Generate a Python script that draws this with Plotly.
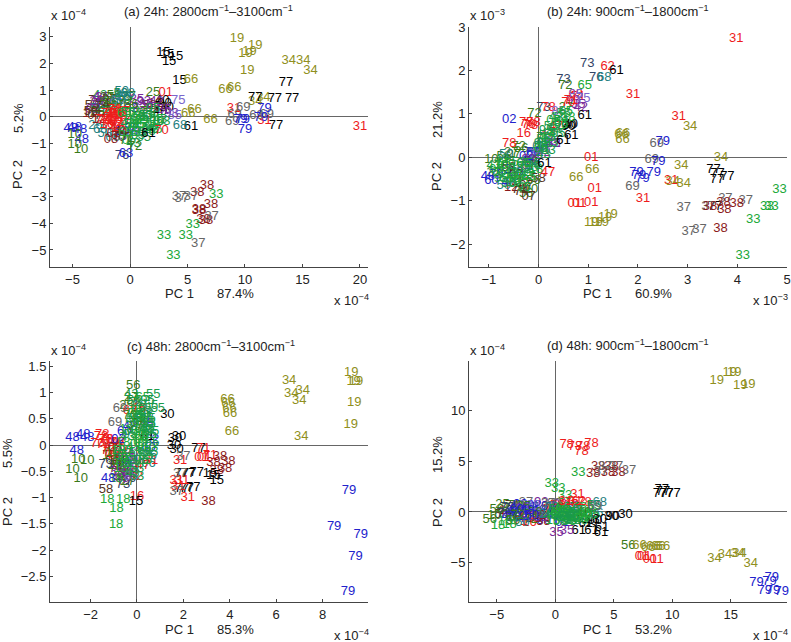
import plotly.graph_objects as go

# ---------- panel (a) ----------
a_labels = ["19","19","19","19","19","34","34","34","34","34","15","15","15","15","15","66","66","66","66","66","66",
 "77","77","77","77","77","31","31","31","69","69","69","69","69","79","79","79","79","79",
 "38","38","38","38","38","38","38","33","33","33","33","33","37","37","37","37","37",
 "48","48","48","48","10","10","10","25","01","75","61","61","70","68","76","63","08","72","50"]
a_x = [9.3,10.9,10.4,10.05,10.2,13.8,15.07,15.7,11.6,10.9,2.9,3.25,4,3.4,4.3,5.3,8.3,9.07,5.6,7,5.07,
 13.56,10.9,12.6,14.1,12.7,9.04,11.7,20,9.85,8.9,11.9,11,9.1,11.7,9.6,10,9.8,11.4,
 6.7,5.85,7.05,6,6,6.4,6.6,7.5,5.45,2.95,4.84,3.77,4.26,5.3,4.5,7.1,5.94,
 -5.16,-4.8,-4.35,-4.2,-4.8,-4.26,-4.8,2,3.1,4.2,5.3,1.6,2.75,4.35,-.7,-.35,-1.65,.43,-.72]
a_y = [2.94,2.65,2.44,2.35,1.71,2.12,2.12,1.72,.71,.56,2.4,2.31,2.25,2.05,1.37,1.4,1.02,1.09,.27,-.1,.12,
 1.29,.71,.67,.67,-.34,.3,-.16,-.37,.35,-.2,.06,.03,.06,.31,-.1,-.47,-.12,-.02,
 -2.6,-2.85,-3.32,-3.5,-3.54,-3.87,-3.9,-2.94,-4.04,-4.45,-4.45,-5.22,-3.02,-3,-3.09,-3.77,-4.75,
 -.44,-.41,-.47,-.87,-1.06,-1.25,-.69,.9,.9,.62,-.37,-.62,-.54,-.35,-1.47,-1.4,-.85,-1.12,.94]
a2_labels = ["58","74","43","35","27","07","56","12","93","50","73","06","26","85","40","90","30","53","55","27",
 "35","93","58","12","74","26","68","50","06","73","85","76","42","35","93","40","35","93","85","42","72","60","02","60",
 "56","27","25","10","72","56","27","25","10","58","07","12","74","35","42","27","56","72","50","26","68","08","12","74","07",
 "78","71","47","16","62","78","71","47","16","62","78","71","78","16","71","47","78","71","16","47",
 "65","05","43","53","55","95","05","65","43","53","55","95","05","65","43","53","55","95","05","65","43","53","55","05","65","95","53","43","18","05"]
a2_x = [-3.3,-3,-2.6,-2.4,-2.1,-1.8,-1.4,-3.5,-3.2,-2.8,-2.5,-2.2,-1.9,-1.2,2.8,3,3.2,-.8,-.5,-.1,
 .6,1.2,1.7,2.2,2.7,-3,-2.6,-2.2,-1.5,-.9,-.3,.2,.8,1.4,2,2.6,3,3.6,3.9,2.3,-.3,-.7,.1,.7,
 -2.8,-2.3,-1.7,-1,-.4,.1,.9,1.6,2.4,-3.4,-3.1,-2.7,-2.4,-2.9,-2.6,-2,-1.6,-1.3,-1,-.6,-.2,-1.4,-1.1,-.8,-.4,
 -1.9,-1.7,-1.5,-1.3,-1.1,-.9,-1.8,-1.6,-1.4,-1.2,-1,-2.2,-2.4,-2,-.7,-.5,-1.7,-1.3,-1,-.6,
 -.4,-.1,.3,.7,1.2,1.6,1.9,2.2,2.6,2.9,-.2,.2,.5,.8,1.1,1.4,1.7,2,2.3,-.5,-.2,.1,.4,.7,1,1.3,1.6,1.9,.3,.6,.9,1.2,-.3,.1]
a2_y = [.4,.6,.8,.7,.55,.65,.8,.1,.25,.3,.5,.2,.4,.6,.6,.5,.35,.85,.7,.75,
 .65,.55,.4,.5,.35,-.35,-.5,-.65,-.8,-.75,-.55,-.45,.35,.45,.3,.2,.25,.1,.05,.55,-.9,-.55,.3,-.6,
 .15,.3,.2,.4,.55,.45,.2,.1,-.2,.2,.05,-.1,.45,.55,.7,.7,.5,.3,.6,.75,.85,-.65,-.45,-.6,-.8,
 .1,-.05,.05,-.1,.12,-.02,-.2,-.12,.15,-.22,.2,-.15,-.1,-.3,.05,-.1,-.35,.25,-.42,.2,
 -.6,-.9,-1,-.7,-.8,-.55,-.35,-.5,-.1,-.2,.15,-.1,.1,-.3,-.2,.05,-.4,.3,-.1,.1,-.25,-.3,-.45,-.05,-.15,.05,-.05,-.5,-.6,-.3,-.15,-.05,-.25,-.1,-.7,-.4]

# ---------- panel (b) ----------
b_labels = ["31","31","31","31","31","34","34","34","34","34","73","73","62","61","76","68","61","61","61","61",
 "72","65","02","72","78","66","66","66","66","66","69","69","69","79","79","79","79","79","79",
 "01","01","01","01","01","19","19","19","19","19","77","77","77","77","77",
 "37","37","37","37","37","37","38","38","38","38","38","33","33","33","33","33","47"]
b_x = [3.98,1.9,2.82,2.1,2.67,3.05,3.67,2.87,2.92,2.7,.98,.5,1.39,1.57,1.16,1.32,.93,.66,.5,.12,
 .54,.93,-.59,-.08,-.59,1.67,1.7,1.69,1.08,.76,2.38,2.28,1.89,2.5,2.41,2.32,1.97,2.09,2.02,
 1.06,1.13,.73,.82,1.06,1.45,1.06,1.15,1.27,1.34,3.52,3.6,3.8,3.59,3.55,
 3.76,4.17,2.92,3.02,3.24,3.42,3.72,3.99,3.74,3.66,3.45,4.85,4.6,4.69,4.32,4.11,.19]
b_y = [2.73,1.45,.93,-.96,-.55,.71,-.02,-.2,-.62,-.56,2.16,1.78,2.09,1.99,1.84,1.84,.96,.5,.37,-.16,
 1.64,1.65,.87,1,.3,.52,.54,.4,-.3,-.47,.31,-.07,-.69,.36,-.11,-.36,-.36,-.49,-.43,
 -.01,-.72,-1.08,-1.08,-1.06,-1.33,-1.5,-1.5,-1.5,-1.4,-.3,-.37,-.44,-.53,-1.15,
 -.95,-1,-1.17,-1.71,-1.67,-1.14,-1.04,-1.08,-1.21,-1.66,-1.14,-.74,-1.14,-1.14,-1.44,-2.27,-.36]
b2_labels = ["78","78","78","78","62","71","16","47","17","72","93","35","42","75","85","75","85","42","26","27",
 "40","90","30","53","55","43","05","95","10","25","27","56","10","25","73","76","58","07","12",
 "06","26","50","68","06","26","50","48","60","79","02","48","60","02","60","74","12","07","58",
 "73","78","85","70","71","35","42","75","93","72","27","56","50","68","26","06","58","07",
 "56","10","56","74","07","43","05","65","18","43","05","65","18","95","53","55","43","05","65","18","95","53","55","43","05","18","95","53",
 "05","65","43","53","95","55","05","65","43","53","95","55","05","65","43","53"]
b2_x = [-.25,-.2,-.15,-.1,.75,.8,-.3,.35,.2,.1,.7,.8,.85,.9,.75,.2,.25,.3,.05,.55,
 .65,.6,.62,.45,.5,.35,.3,.15,-.75,-.6,-.5,-.35,-.95,-.9,-.15,.05,-.15,-.2,-.55,
 -.3,-.2,-.05,.1,-.5,-.4,-.7,-1.02,-.95,-.85,-.7,-.6,-.45,-.25,-.1,-.4,-.3,-.25,.0,
 .1,.2,.4,.6,.65,.3,.1,-.05,-.2,-.4,-.55,-.7,-.65,-.3,-.1,.02,-.6,-.45,
 -.25,-.15,-.1,-.35,-.2,-.9,-.8,-.65,-.55,-.45,-.35,-.2,-.05,.05,.15,.25,.35,.45,.55,.6,.4,.2,.1,-.75,-.62,-.5,-.3,-.15,
 -.85,-.7,-.55,-.4,-.25,-.1,.05,.2,.3,.45,-.75,-.6,-.45,-.3,.1,.25]
b2_y = [.8,.75,.72,.8,1.45,1.4,.55,.7,.5,.45,1.3,1.2,1.15,1.35,1.45,.45,.35,.3,.2,1.15,
 .75,.7,.72,.9,1,.55,.85,.6,-.2,-.1,.05,.2,-.05,-.35,.1,.2,-.1,-.2,-.7,
 -.15,-.1,.1,.3,-.55,-.45,-.65,-.45,-.55,-.4,-.3,-.6,-.35,0,.1,-.75,-.6,-.65,-.5,
 1.15,1.15,1.05,1.25,1.3,.3,.1,.05,-.05,.25,.1,.0,.05,-.3,-.2,.25,-.25,-.4,
 -.85,-.75,-.55,-.8,-.9,-.2,-.35,-.5,-.4,-.25,-.55,-.45,-.3,.3,.5,.7,.9,.75,1.05,.9,.55,.15,.4,-.05,-.2,-.6,-.7,-.25,
 -.3,-.15,-.35,-.12,-.4,-.15,.2,.45,.65,.8,-.5,-.62,-.48,-.15,.05,.3]

# ---------- panel (c) ----------
c_labels = ["19","19","19","19","19","34","34","34","34","34","66","66","66","66","66","79","79","79","79","79",
 "30","30","30","30","30","77","77","77","77","77","77","77","71","71","01","01",
 "38","38","38","38","38","38","15","15","15","31","31","31","31","31","37","37","37",
 "48","48","48","48","48","10","10","10","10","18","18","18","18","58","16","15","78","70","73","56","55","55","69","69"]
c_x = [9.24,9.34,9.44,9.37,9.22,6.56,7.15,6.65,7,7.08,3.9,3.94,3.99,4.01,4.1,9.14,8.5,9.65,9.42,9.1,
 1.31,1.81,1.64,1.6,1.71,2.65,1.93,2.2,2.58,1.93,2.15,2.43,2.86,3.15,2.9,2.78,
 3.3,3.58,3.94,3.8,3.44,3.08,3.3,3.44,3.15,1.86,1.71,1.95,1.78,2.19,2,1.71,1.86,
 -2.78,-2.32,-2.14,-2.6,-1.24,-2.78,-2.42,-2.53,-2.14,-1.28,-.59,-.88,-.9,-1.34,0,-.04,-1.5,-1.7,-1.35,-.16,.7,.9,-.73,-.95]
c_y = [1.37,1.2,1.2,.81,.39,1.22,1.03,.98,.84,.15,.86,.78,.7,.6,.25,-.88,-1.55,-1.7,-2.12,-2.79,
 .57,.16,.11,-.01,-.09,-.08,-.54,-.54,-.53,-.84,-.84,-.82,-.08,-.2,-.25,-.24,
 -.33,-.23,-.31,-.46,-.49,-1.08,-.58,-.68,-.55,-.3,-.68,-.69,-.79,-1,-.22,-.89,-.55,
 .13,.19,.13,-.1,-.65,-.48,-.65,-.29,-.3,-1.04,-1.04,-1.22,-1.52,-.86,-.98,-1.09,.2,.03,-.37,1.13,.96,.7,.7,.43]
c2_labels = ["78","70","78","71","47","16","12","74","58","07","73","76","72","56","27","25","10","12","08","35","42","93","35","42","93",
 "85","75","26","06","50","68","26","06","60","02","48","02","60","62","16","47","62","61","31",
 "78","70","71","47","78","16","08","12","07","58","74","72","27","56","10","25","35","93","42","85","02","60","48","26","06",
 "43","53","05","65","95","55","18","43","53","05","65","95","55","18","43","53","05","65","95","55","18","43","53","05","65","95","55","18","43","53","05","65","95","55","18","27","56","72",
 "05","65","43","53","95","55","05","65","43","53","95","55","05","65","43","53","95","55"]
c2_x = [-1.3,-1.1,-1.55,-1,-.8,-.55,-1.2,-.9,-.7,-.5,-.6,-.35,-.5,-.15,-.25,-.45,-1.2,-.85,-.3,-.7,-.5,-.3,-.25,-.1,.05,
 .25,.35,.55,.5,.25,.4,.1,-.05,-.55,-.35,.4,.65,.5,-.3,.1,.25,-.05,.45,.6,
 -1.45,-1.25,-1.15,-1,-1.35,-.85,-.95,-.75,-1.05,-.8,-.65,-.6,-.4,-.75,-1.05,-.95,-.85,-.65,-.45,-.25,-.8,-.55,-.3,.55,.35,
 -.25,-.1,.05,.25,.45,.6,-.45,-.4,-.2,0,.2,.35,.5,-.6,-.15,.05,.2,.4,.55,.65,-.8,-.3,-.05,.15,.3,.45,.6,-.7,-.2,0,.15,.35,.5,.65,-.9,-.05,.1,-.3,
 -.1,.1,.3,.5,-.3,-.15,0,.2,.4,.6,-.5,-.7,-.6,-.4,-.2,0,.2,.4]
c2_y = [.1,.05,.15,-.2,.05,-.1,-.05,-.45,-.6,-.7,-.75,-.65,-.3,.85,.9,.75,-.2,-.35,-.55,-.2,-.25,-.35,-.45,-.15,-.3,
 .5,.35,.2,-.35,.55,.6,.75,.5,-.35,-.3,.4,.1,-.05,.65,.7,-.4,-.6,.15,-.3,
 .0,-.1,-.15,-.2,.1,.05,-.05,-.25,-.3,-.4,-.55,-.6,-.7,-.3,-.15,-.4,-.5,-.65,-.55,-.6,.1,.25,.35,-.2,-.15,
 .95,.8,.65,.9,.85,.75,.3,.15,.4,.55,.3,.7,.5,.05,-.05,.25,.1,.5,.2,.05,-.1,-.3,-.15,.05,-.1,.3,-.15,-.45,-.55,-.45,.2,-.3,.4,.25,-.65,.35,.45,.55,
 .6,.45,.6,.4,.2,.5,.0,.15,.3,-.05,-.1,-.2,-.35,-.25,-.4,-.6,-.3,-.2]

# ---------- panel (d) ----------
d_labels = ["19","19","19","19","19","78","78","78","78","78","38","38","38","38","38","37","37","37","37",
 "33","33","33","33","31","31","31","77","77","77","77","77","30","30","30","61","61","61","61","35","35",
 "56","66","66","66","66","66","01","01","01","01","34","34","34","34","34","79","79","79","79","79","79",
 "56","18","18","90","69"]
d_x = [13.8,14.9,15.3,15.8,16.5,.97,1.68,2.4,3.1,2.25,3.68,4.8,3.25,4.5,5.4,4.25,6.3,5.2,3.9,
 1.97,-.3,.25,.83,1.9,1.7,.9,9.1,8.95,9.5,10.1,9.2,6,4.8,3.8,2,3.1,3.9,4,.1,1,
 6.24,7.2,7.95,8.4,8.8,9.2,7.4,8.1,8.66,7.6,13.6,14.5,15.6,15.75,16.7,18.5,17.2,18.3,17.9,18.6,19.35,
 -5.6,-4.9,-3.9,4.9,3.4]
d_y = [12.95,13.7,13.7,12.45,12.5,6.6,6.45,6.45,6.75,5.97,4.5,4.5,3.77,3.83,3.87,4.5,4.1,4.5,4,
 3.83,2.8,2.3,1.64,1.7,1,1,2.2,1.8,1.8,1.8,2,-.26,-.5,-.8,-1.87,-1.8,-2.07,-1.6,-2.07,-1.8,
 -3.34,-3.34,-3.5,-3.45,-3.45,-3.45,-4.36,-4.75,-4.75,-4.45,-4.62,-4.16,-4.1,-4.1,-5.08,-6.5,-6.95,-6.9,-7.77,-7.77,-7.87,
 -.8,-1.4,-1.3,-.45,.5]
d2_labels = ["58","12","74","25","27","72","56","10","73","76","69","37","93","35","42","93","35","85","75","26","06","50","68","26","06","50","68",
 "48","60","02","48","60","02","48","60","02","48","60","02","78","71","47","16","62","78","71","47","16","08","12","38",
 "40","90","61","18","35","42","85","75","93","37","69","73","76","27","25","72","56","60","02","48","60","26","06",
 "43","53","05","65","95","55","18","43","53","05","65","95","55","18","43","53","05","65","95","55","18","43","53","05","65","95","55","10","56","72","50","26","68",
 "05","65","43","53","95","55","05","65","43","53"]
d2_x = [-4.6,-4.2,-3.7,-4.5,-4,-3.4,-5,-5.2,-4.4,-3.8,-3.2,-2.5,-1.2,-.6,-.1,.4,.9,1.4,1.9,-3.5,-3,-2.5,-2,-1.5,-1,-.5,0,
 -4,-3.5,-3,-2.6,-2.2,-1.8,-1.4,-1,-.6,-.2,.2,.6,-.4,.2,.8,1.4,2,2.5,-3,-2.6,-2.2,-1.8,-1.4,-1,
 3,3.4,2.6,-4.3,-2.8,-2.3,-1.9,-1.6,-1.2,-.6,-.1,-4.1,-3.6,-3.1,-2.7,-2.1,-1.7,-3.3,-2.9,-2.4,-2,-.8,-.3,
 -.4,0,.3,.6,.9,1.2,1.5,1.8,2.1,2.4,2.7,3,3.3,-.2,.1,.4,.7,1,1.3,1.6,1.9,2.2,.5,.9,1.3,1.7,2.1,2.5,-3.6,-3.2,-2.8,3.5,3.8,3.2,
 .2,.6,1,1.4,1.8,2.2,2.6,.8,1.2,1.6]
d2_y = [-.3,.1,.6,.7,.4,.6,.2,-.4,-.2,.3,.5,.9,.9,.5,.2,.7,.3,.5,.1,-.6,-.3,.1,.4,-.2,-.7,-.3,.2,
 -.5,-.1,.7,-.7,.4,.6,.1,-.9,.5,-.4,.3,-1.1,.2,.6,.9,.7,1,.9,-1,-.6,-1.1,-.7,-.4,-1,
 -1,-.9,-1.2,-1,.3,-.5,.6,-.2,-.6,.8,.8,.4,-.6,-.3,.5,-.8,-.1,.2,-.5,.1,-.4,-.3,.4,
 -.4,.2,-.5,.1,-.8,-.3,.3,-.7,-.1,-.6,.4,-.4,.6,-.9,-.2,-1,.4,-.6,-.1,-.9,-.4,-.9,-.5,.2,-.9,.4,-.5,-.1,-.9,-.4,-1.1,-.2,.9,-.3,
 -.1,-.5,-.2,-.6,-.3,-.7,-.2,-.8,-1,-.95]

# ---------- text ----------
titles = ["(a) 24h: 2800cm<sup>−1</sup>–3100cm<sup>−1</sup>", "(b) 24h: 900cm<sup>−1</sup>–1800cm<sup>−1</sup>",
          "(c) 48h: 2800cm<sup>−1</sup>–3100cm<sup>−1</sup>", "(d) 48h: 900cm<sup>−1</sup>–1800cm<sup>−1</sup>"]
pc1_share = ["87.4%", "60.9%", "85.3%", "53.2%"]
pc2_share = ["5.2%", "21.2%", "5.5%", "15.2%"]
exponents = ["−4", "−3", "−4", "−4"]
x_ticks = [[-5,0,5,10,15,20], [-1,0,1,2,3,4,5], [-2,0,2,4,6,8], [-5,0,5,10,15]]
y_ticks = [[-5,-4,-3,-2,-1,0,1,2,3], [-2,-1,0,1,2,3], [-2.5,-2,-1.5,-1,-.5,0,.5,1,1.5], [-5,0,5,10]]

# ---------- styling ----------
W, H = 791, 642
OLIVE, BLACK, RED, BLUE, GREEN = "#8f8f20", "#000000", "#ee1c1c", "#2222cc", "#20a838"
DKRED, GREY, DKGREEN, TEAL, PURPLE = "#8b1a1a", "#666666", "#3a7a1a", "#1f8080", "#7a2a9a"
LILAC, NAVY, BROWN, MEDGREEN = "#7a66cc", "#334466", "#553322", "#1a9a4a"
PALETTE = {}
for col, keys in {
    OLIVE: "19 34 66", BLACK: "77 15 61 30 90 40", RED: "31 01 62 78 71 47 16 70 17",
    BLUE: "79 48 02 60 63", GREEN: "33 18 05 65", DKRED: "38 08 12", GREY: "37 69",
    DKGREEN: "10 56 72 25 27", TEAL: "50 68 06 26", PURPLE: "35 42 93", LILAC: "75 85",
    NAVY: "73 76", BROWN: "58 74 07", MEDGREEN: "43 53 55 95",
}.items():
    for k in keys.split():
        PALETTE[k] = col

# left, right, top, bottom in px; x range; y range
BOXES = [
    (50, 368, 27, 267, (-6.96, 20.7), (-5.64, 3.37)),
    (469, 787, 27, 267, (-1.4, 5.0), (-2.53, 3.0)),
    (50, 368, 361, 602, (-3.75, 9.96), (-2.99, 1.6)),
    (469, 787, 361, 602, (-7.37, 19.8), (-8.86, 14.86)),
]
PANELS = [(a_labels, a_x, a_y, a2_labels, a2_x, a2_y),
          (b_labels, b_x, b_y, b2_labels, b2_x, b2_y),
          (c_labels, c_x, c_y, c2_labels, c2_x, c2_y),
          (d_labels, d_x, d_y, d2_labels, d2_x, d2_y)]
# pixel centres of the surrounding texts
TITLE_XY = [(209, 11), (628, 11), (211, 346), (628, 345)]
PC1_XY = [(179, 294), (597, 294), (179, 629), (597, 629)]
SHARE1_XY = [(235, 294), (653, 294), (235, 629), (653, 629)]
EXPTOP_XY = [(68, 15), (487, 15), (68, 350), (487, 350)]
EXPBOT_XY = [(351, 300), (770, 300), (351, 635), (770, 635)]
PC2_XY = [(18, 175), (437, 177), (7, 512), (437, 513)]
SHARE2_XY = [(18, 118), (437, 120), (7, 453), (437, 455)]
FONT = "Liberation Sans, Arial, sans-serif"
AXIS = "#444444"

fig = go.Figure()
layout = dict(width=W, height=H, margin=dict(l=0, r=0, t=0, b=0, autoexpand=False), paper_bgcolor="white",
              plot_bgcolor="white", showlegend=False, font=dict(family=FONT, size=13, color="#222222"))
ann = []


def note(xy, text, rot=0):
    ann.append(dict(xref="paper", yref="paper", x=xy[0] / W, y=1 - xy[1] / H, text=text, showarrow=False,
                    textangle=rot, xanchor="center", yanchor="middle",
                    font=dict(family=FONT, size=13, color="#222222")))


for i, (box, data) in enumerate(zip(BOXES, PANELS)):
    l, r, t, b, xr, yr = box
    sx = "" if i == 0 else str(i + 1)
    for labs, xs, ys in (data[3:], data[:3]):
        fig.add_trace(go.Scatter(x=xs, y=ys, text=labs, mode="text", cliponaxis=False, hoverinfo="skip",
                                 textposition="middle center",
                                 textfont=dict(family=FONT, size=13, color=[PALETTE[k] for k in labs]),
                                 xaxis="x" + sx, yaxis="y" + sx))
    common = dict(showgrid=False, zeroline=True, zerolinecolor="#666666", zerolinewidth=1, showline=True,
                  linecolor=AXIS, linewidth=1, ticks="inside", ticklen=3, tickcolor=AXIS, tickfont=dict(size=13))
    layout["xaxis" + sx] = dict(domain=[l / W, r / W], range=list(xr), tickmode="array", tickvals=x_ticks[i],
                                anchor="y" + sx, **common)
    layout["yaxis" + sx] = dict(domain=[1 - b / H, 1 - t / H], range=list(yr), tickmode="array", tickvals=y_ticks[i],
                                anchor="x" + sx, **common)
    note(TITLE_XY[i], titles[i])
    note(PC1_XY[i], "PC 1")
    note(SHARE1_XY[i], pc1_share[i])
    note(EXPTOP_XY[i], f"x 10<sup>{exponents[i]}</sup>")
    note(EXPBOT_XY[i], f"x 10<sup>{exponents[i]}</sup>")
    note(PC2_XY[i], "PC 2", rot=-90)
    note(SHARE2_XY[i], pc2_share[i], rot=-90)

layout["annotations"] = ann
fig.update_layout(**layout)
fig.write_html("out.html", config={"displayModeBar": False},
               post_script="document.body.style.margin='0';document.body.style.overflow='hidden';")
